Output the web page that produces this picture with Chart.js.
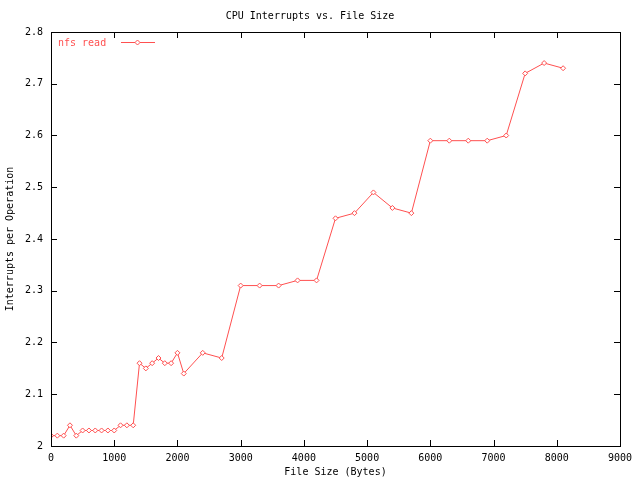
<!DOCTYPE html>
<html>
<head>
<meta charset="utf-8">
<style>
  html, body { margin: 0; padding: 0; background: #fff; }
  canvas { display: block; }
</style>
<script src="https://cdn.jsdelivr.net/npm/chart.js@4/dist/chart.umd.min.js"></script>
</head>
<body>
<canvas id="chart" width="640" height="480"></canvas>
<script>
const fileSizes = [0, 100, 200, 300, 400, 500, 600, 700, 800, 900, 1000, 1100, 1200, 1300,
    1400, 1500, 1600, 1700, 1800, 1900, 2000, 2100, 2400, 2700, 3000, 3300, 3600, 3900,
    4200, 4500, 4800, 5100, 5400, 5700, 6000, 6300, 6600, 6900, 7200, 7500, 7800, 8100];
const nfsRead = [2.02, 2.02, 2.02, 2.04, 2.02, 2.03, 2.03, 2.03, 2.03, 2.03, 2.03, 2.04, 2.04, 2.04,
    2.16, 2.15, 2.16, 2.17, 2.16, 2.16, 2.18, 2.14, 2.18, 2.17, 2.31, 2.31, 2.31, 2.32,
    2.32, 2.44, 2.45, 2.49, 2.46, 2.45, 2.59, 2.59, 2.59, 2.59, 2.60, 2.72, 2.74, 2.73];
const xTicks = [0, 1000, 2000, 3000, 4000, 5000, 6000, 7000, 8000, 9000];
const yTicks = [2, 2.1, 2.2, 2.3, 2.4, 2.5, 2.6, 2.7, 2.8];

const FONT = "'DejaVu Sans Mono', monospace";
const RED = "#ff5050";

// gnuplot-style frame: border plus inward ticks on all four sides, key inside top-left
const framePlugin = {
    id: "frame",
    afterDraw(chart) {
        const ctx = chart.ctx;
        const area = chart.chartArea;
        const xs = chart.scales.x;
        const ys = chart.scales.y;
        ctx.save();
        ctx.strokeStyle = "#000";
        ctx.lineWidth = 1;
        ctx.beginPath();
        xTicks.forEach(v => {
            const px = Math.round(xs.getPixelForValue(v)) + 0.5;
            ctx.moveTo(px, area.bottom);
            ctx.lineTo(px, area.bottom - 6);
            ctx.moveTo(px, area.top);
            ctx.lineTo(px, area.top + 6);
        });
        yTicks.forEach(v => {
            const py = Math.round(ys.getPixelForValue(v)) + 0.5;
            ctx.moveTo(area.left, py);
            ctx.lineTo(area.left + 6, py);
            ctx.moveTo(area.right, py);
            ctx.lineTo(area.right - 6, py);
        });
        ctx.stroke();
        ctx.strokeRect(Math.round(area.left) + 0.5, Math.round(area.top) + 0.5,
            Math.round(area.right - area.left), Math.round(area.bottom - area.top));

        // key
        const label = chart.data.datasets[0].label;
        ctx.font = "10px " + FONT;
        ctx.fillStyle = RED;
        ctx.textBaseline = "middle";
        ctx.textAlign = "left";
        ctx.fillText(label, area.left + 7, area.top + 11);
        ctx.strokeStyle = RED;
        ctx.beginPath();
        ctx.moveTo(area.left + 70, area.top + 10.5);
        ctx.lineTo(area.left + 104, area.top + 10.5);
        ctx.stroke();
        const mx = area.left + 86.5, my = area.top + 10.5;
        ctx.fillStyle = "#fff";
        ctx.beginPath();
        ctx.moveTo(mx, my - 2.5);
        ctx.lineTo(mx + 2.5, my);
        ctx.lineTo(mx, my + 2.5);
        ctx.lineTo(mx - 2.5, my);
        ctx.closePath();
        ctx.fill();
        ctx.stroke();
        ctx.restore();
    }
};

new Chart(document.getElementById("chart"), {
    type: "line",
    data: {
        datasets: [{
            label: "nfs read",
            data: fileSizes.map((x, i) => ({ x: x, y: nfsRead[i] })),
            borderColor: RED,
            backgroundColor: "#fff",
            borderWidth: 1,
            pointStyle: "rectRot",
            pointRadius: 2.5,
            pointBorderWidth: 1,
            pointBorderColor: RED,
            pointBackgroundColor: "#fff",
            tension: 0,
            fill: false
        }]
    },
    options: {
        responsive: false,
        animation: false,
        devicePixelRatio: 1,
        layout: { padding: { left: 0, right: 20, top: 0, bottom: 0 } },
        plugins: {
            legend: { display: false },
            tooltip: { enabled: false },
            title: {
                display: true,
                text: "CPU Interrupts vs. File Size",
                color: "#000",
                font: { family: FONT, size: 10, weight: "normal" },
                padding: { top: 10, bottom: 10 }
            }
        },
        scales: {
            x: {
                type: "linear",
                min: 0,
                max: 9000,
                afterBuildTicks: s => { s.ticks = xTicks.map(v => ({ value: v })); },
                afterFit: s => { s.height = 34; },
                grid: { display: false, drawTicks: false },
                border: { display: false },
                ticks: {
                    color: "#000",
                    font: { family: FONT, size: 10 },
                    padding: 6,
                    maxRotation: 0,
                    callback: v => String(v)
                },
                title: {
                    display: true,
                    text: "File Size (Bytes)",
                    color: "#000",
                    font: { family: FONT, size: 10 },
                    padding: { top: 2, bottom: 2 }
                }
            },
            y: {
                type: "linear",
                min: 2,
                max: 2.8,
                afterBuildTicks: s => { s.ticks = yTicks.map(v => ({ value: v })); },
                afterFit: s => { s.width = 51; },
                grid: { display: false, drawTicks: false },
                border: { display: false },
                ticks: {
                    color: "#000",
                    font: { family: FONT, size: 10 },
                    padding: 8,
                    callback: v => String(Number(v.toFixed(1)))
                },
                title: {
                    display: true,
                    text: "Interrupts per Operation",
                    color: "#000",
                    font: { family: FONT, size: 10 },
                    padding: { top: 4, bottom: 0 }
                }
            }
        }
    },
    plugins: [framePlugin]
});
</script>
</body>
</html>
